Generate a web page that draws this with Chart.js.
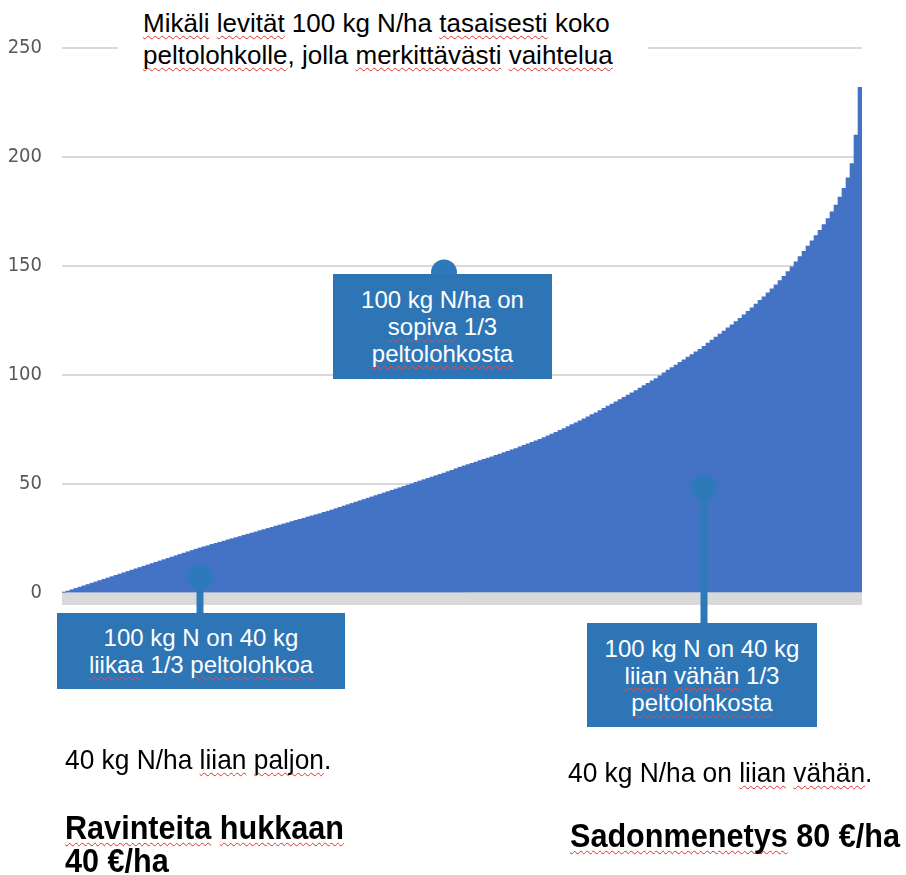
<!DOCTYPE html>
<html>
<head>
<meta charset="utf-8">
<script src="https://cdn.jsdelivr.net/npm/chart.js@4.4.1/dist/chart.umd.min.js"></script>
<style>
  body { margin: 0; width: 906px; height: 875px; position: relative; overflow: hidden; background: #fff; font-family: 'Liberation Sans', Arial, sans-serif; }
  #chart { position: absolute; left: 0; top: 0; }
  .sp { text-decoration: underline wavy #e0322e; text-decoration-thickness: 1px; text-underline-offset: 3px; text-decoration-skip-ink: none; }
  .note { position: absolute; white-space: nowrap; color: #000; }
  .box { position: absolute; background: #2e75b6; color: #fff; font-size: 24px; line-height: 27px; text-align: center; display: flex; flex-direction: column; justify-content: center; }
  .box .sp { text-decoration-color: #e8484a; }
  .tall { transform: scaleX(0.94); transform-origin: 0 0; }
  .big { font-weight: bold; font-size: 34px; line-height: 33px; transform: scaleX(0.9); }
</style>
</head>
<body>
<canvas id="chart" width="906" height="875"></canvas>

<div class="note" style="left:118px; top:0; width:530px; height:76px; background:#fff;"></div>
<div class="note" style="left:143px; top:7px; font-size:26px; line-height:32px;">
  <span class="sp">Mikäli</span> <span class="sp">levität</span> 100 kg N/ha <span class="sp">tasaisesti</span> koko<br>
  <span class="sp">peltolohkolle</span>, jolla <span class="sp">merkittävästi</span> <span class="sp">vaihtelua</span>
</div>

<div class="box" style="left:57px; top:613px; width:288px; height:76px;">
  <div>100 kg N on 40 kg</div>
  <div><span class="sp">liikaa</span> 1/3 <span class="sp">peltolohkoa</span></div>
</div>
<div class="box" style="left:333px; top:274px; width:219px; height:105px;">
  <div>100 kg N/ha on</div>
  <div><span class="sp">sopiva</span> 1/3</div>
  <div><span class="sp">peltolohkosta</span></div>
</div>
<div class="box" style="left:587px; top:623px; width:230px; height:104px;">
  <div>100 kg N on 40 kg</div>
  <div><span class="sp">liian</span> <span class="sp">vähän</span> 1/3</div>
  <div><span class="sp">peltolohkosta</span></div>
</div>

<div class="note tall" style="left:65px; top:744px; font-size:28px;">40 kg N/ha <span class="sp">liian</span> <span class="sp">paljon</span>.</div>
<div class="note tall" style="left:568px; top:757px; font-size:28px;">40 kg N/ha on <span class="sp">liian</span> <span class="sp">vähän</span>.</div>
<div class="note tall big" style="left:65px; top:811px;"><span class="sp">Ravinteita</span> <span class="sp">hukkaan</span><br>40 €/ha</div>
<div class="note tall big" style="left:570px; top:819px;"><span class="sp">Sadonmenetys</span> 80 €/ha</div>

<script>
// nitrogen need per plot, sorted from lowest to highest (kg N/ha)
const needN = [
  0.3, 0.9, 1.5, 2.1, 2.7, 3.3, 3.9, 4.5, 5.1, 5.7,
  6.3, 6.9, 7.5, 8.1, 8.7, 9.3, 9.9, 10.5, 11.1, 11.7,
  12.3, 12.9, 13.5, 14.1, 14.7, 15.3, 15.9, 16.5, 17.1, 17.7,
  18.3, 18.9, 19.5, 20.1, 20.7, 21.2, 21.7, 22.3, 22.8, 23.3,
  23.8, 24.4, 24.9, 25.4, 25.9, 26.5, 27.0, 27.5, 28.0, 28.6,
  29.1, 29.6, 30.1, 30.7, 31.2, 31.7, 32.2, 32.8, 33.3, 33.8,
  34.3, 34.9, 35.4, 35.9, 36.4, 37.0, 37.5, 38.1, 38.7, 39.3,
  39.9, 40.5, 41.1, 41.7, 42.3, 42.9, 43.5, 44.1, 44.7, 45.3,
  45.9, 46.5, 47.1, 47.7, 48.3, 48.9, 49.5, 50.1, 50.8, 51.4,
  52.0, 52.6, 53.2, 53.8, 54.4, 55.0, 55.7, 56.3, 57.0, 57.7,
  58.3, 58.9, 59.5, 60.1, 60.7, 61.3, 61.9, 62.5, 63.1, 63.7,
  64.4, 65.0, 65.7, 66.3, 67.0, 67.7, 68.4, 69.1, 69.8, 70.5,
  71.3, 72.1, 72.9, 73.7, 74.6, 75.4, 76.3, 77.2, 78.1, 79.0,
  79.9, 80.8, 81.8, 82.7, 83.7, 84.7, 85.7, 86.7, 87.7, 88.7,
  89.7, 90.8, 91.8, 92.9, 94.0, 95.1, 96.2, 97.3, 98.4, 99.6,
  101.0, 102.2, 103.4, 104.6, 105.8, 107.0, 108.2, 109.4, 110.6, 111.8,
  113.2, 114.6, 116.0, 117.4, 118.8, 120.2, 121.6, 123.0, 124.5, 126.0,
  127.6, 129.2, 130.8, 132.5, 134.2, 135.9, 137.7, 139.5, 141.4, 143.3,
  145.3, 147.4, 149.6, 151.9, 154.3, 156.7, 159.1, 161.5, 163.9, 166.4,
  169.0, 171.8, 174.8, 178.0, 181.6, 185.6, 190.5, 197.0, 210.0, 232.0
];
const plots = needN.map((_, i) => i + 1);
const yTicks = [0, 50, 100, 150, 200, 250];

// callout pins: plot index, value, and where the stem ends (box top)
const pins = [
  { plot: 35, value: 7.3, stemTo: 613 },
  { plot: 96, value: 147, stemTo: null },
  { plot: 161, value: 48.6, stemTo: 623 }
];

const pinColor = '#2e79b9';

const zeroBand = {
  id: 'zeroBand',
  beforeDatasetsDraw(chart) {
    const { ctx, chartArea, scales } = chart;
    const y0 = scales.y.getPixelForValue(0);
    ctx.save();
    ctx.fillStyle = '#d9d9d9';
    ctx.fillRect(chartArea.left, y0, chartArea.right - chartArea.left, 12);
    ctx.restore();
  }
};

const pinPlugin = {
  id: 'pins',
  afterDatasetsDraw(chart) {
    const { ctx, scales } = chart;
    ctx.save();
    ctx.fillStyle = pinColor;
    ctx.strokeStyle = pinColor;
    pins.forEach(p => {
      const x = scales.x.getPixelForValue(p.plot - 1);
      const y = scales.y.getPixelForValue(p.value);
      if (p.stemTo) {
        ctx.lineWidth = 7;
        ctx.beginPath();
        ctx.moveTo(x, y);
        ctx.lineTo(x, p.stemTo);
        ctx.stroke();
      }
      ctx.beginPath();
      ctx.arc(x, y, 13, 0, Math.PI * 2);
      ctx.fill();
    });
    ctx.restore();
  }
};

new Chart(document.getElementById('chart'), {
  type: 'bar',
  data: {
    labels: plots,
    datasets: [{
      data: needN,
      backgroundColor: '#4472c4',
      borderWidth: 0,
      barPercentage: 1,
      categoryPercentage: 1
    }]
  },
  options: {
    responsive: false,
    animation: false,
    devicePixelRatio: 1,
    layout: { padding: { left: 0, top: 48, right: 44, bottom: 282 } },
    plugins: { legend: { display: false }, tooltip: { enabled: false } },
    scales: {
      x: { display: false },
      y: {
        min: 0,
        max: 250,
        afterBuildTicks(scale) { scale.ticks = yTicks.map(v => ({ value: v })); },
        afterFit(scale) { scale.width = 62; },
        border: { display: false },
        grid: { color: '#d9d9d9', lineWidth: 2, drawTicks: false },
        ticks: {
          padding: 20,
          color: '#595959',
          font: { family: "'DejaVu Sans Condensed', 'Liberation Sans', sans-serif", size: 20 }
        }
      }
    }
  },
  plugins: [zeroBand, pinPlugin]
});
</script>
</body>
</html>
